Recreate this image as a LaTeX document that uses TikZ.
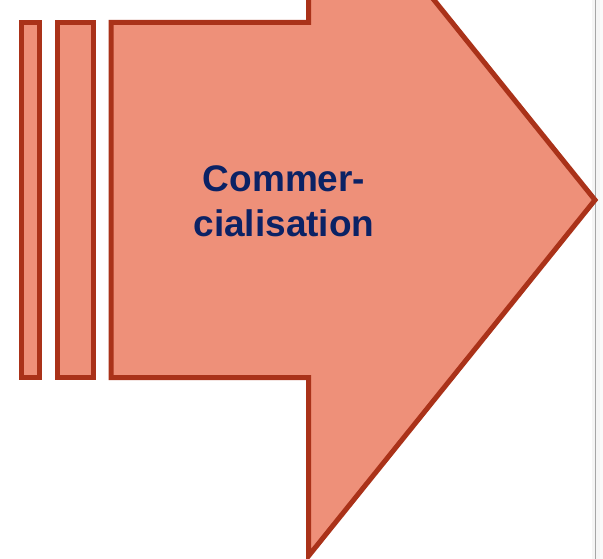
\documentclass[tikz,border=0pt]{standalone}
\usepackage{fontspec}
\setmainfont{Liberation Sans}
\definecolor{salmon}{HTML}{EE9079}
\definecolor{rust}{HTML}{AA3219}
\definecolor{navy}{HTML}{0B2265}
\tikzset{
  shapestyle/.style={fill=salmon, draw=rust, line width=5pt, line join=miter},
  labeltext/.style={text=navy, font=\bfseries\fontsize{37}{45}\selectfont, align=center}
}
\begin{document}
\begin{tikzpicture}[x=1pt,y=-1pt]
\useasboundingbox (0,0) rectangle (603,559);
\clip (0,0) rectangle (603,559);
\fill[white] (0,0) rectangle (603,559);
% right edge scroll border
\fill[gray!8] (592,0) rectangle (600,559);
\fill[gray!4] (600,0) rectangle (603,559);
\draw[gray!70, line width=1.2pt] (595.5,0) -- (595.5,559);
% bars
\draw[shapestyle] (21,22.5) rectangle (39,377.5);
\draw[shapestyle] (57,22.5) rectangle (93,377.5);
% arrow
\draw[shapestyle] (111,22.5) -- (308.5,22.5) -- (308.5,-156) -- (595,200) -- (308.5,556) -- (308.5,377.5) -- (111,377.5) -- cycle;
\node[labeltext] (lbl) at (284,201) {Commer-\\cialisation};
\end{tikzpicture}
\end{document}
